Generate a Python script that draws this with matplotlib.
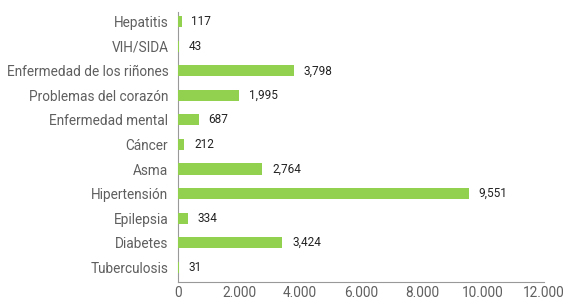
import matplotlib.pyplot as plt
from matplotlib.ticker import FuncFormatter

categories = ['Hepatitis', 'VIH/SIDA', 'Enfermedad de los riñones', 'Problemas del corazón',
              'Enfermedad mental', 'Cáncer', 'Asma', 'Hipertensión', 'Epilepsia',
              'Diabetes', 'Tuberculosis']
values = [117, 43, 3798, 1995, 687, 212, 2764, 9551, 334, 3424, 31]
x_ticks = [0, 2000, 4000, 6000, 8000, 10000, 12000]

plt.rcParams['font.family'] = ['Roboto', 'DejaVu Sans']

fig = plt.figure(figsize=(5.67, 2.98), dpi=100)
ax = fig.add_axes([0.314, 0.054, 0.645, 0.906])

y = list(range(len(categories)))
ax.barh(y, values, height=0.45, color='#92d050', zorder=3)
ax.set_ylim(len(categories) - 0.4, -0.4)
ax.set_xlim(0, 12000)

for yi, v in zip(y, values):
    ax.annotate(f'{v:,}', (v, yi), xytext=(7, 0), textcoords='offset points',
                va='center', ha='left', fontsize=8.5, color='#222222')

ax.set_yticks(y)
ax.set_yticklabels(categories)
ax.set_xticks(x_ticks)
ax.xaxis.set_major_formatter(FuncFormatter(lambda v, p: f'{int(v):,}'.replace(',', '.')))
ax.tick_params(axis='both', length=0, labelsize=9.8, colors='#5f5f5f')
ax.tick_params(axis='y', pad=7)
ax.tick_params(axis='x', pad=3)

for s in ['top', 'right']:
    ax.spines[s].set_visible(False)
for s in ['left', 'bottom']:
    ax.spines[s].set_color('#999999')

fig.savefig('out.png', dpi=100)
